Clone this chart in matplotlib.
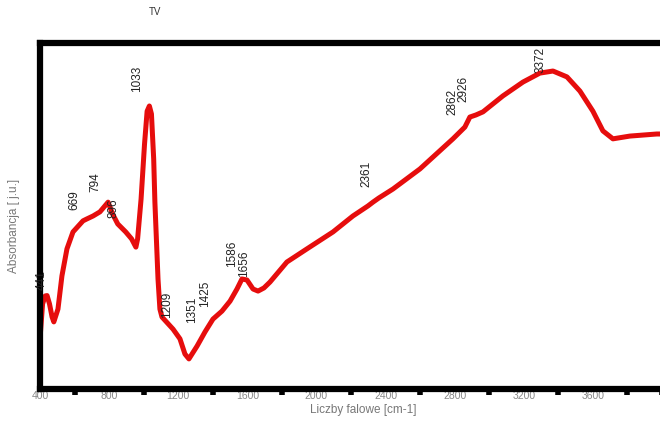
import matplotlib.pyplot as plt
from matplotlib.ticker import MultipleLocator

plt.rcParams['font.family'] = ['Liberation Sans', 'DejaVu Sans']

# FTIR spectrum, wavenumber [cm-1] vs absorbance [a.u.]
wavenumber = [400, 415, 430, 441, 455, 470, 480, 504, 527, 556, 591, 649, 669,
              707, 747, 794, 820, 850, 896, 930, 955, 965, 985, 1005, 1020,
              1033, 1045, 1058, 1065, 1083, 1094, 1106, 1170, 1210, 1239,
              1262, 1309, 1355, 1401, 1453, 1500, 1540, 1569, 1598, 1633,
              1662, 1696, 1731, 1829, 1945, 2096, 2211, 2298, 2327, 2361,
              2443, 2599, 2790, 2859, 2888, 2923, 2964, 3079, 3195, 3293,
              3369, 3450, 3525, 3600, 3658, 3716, 3814, 3970, 4000]
absorbance = [0.145, 0.246, 0.269, 0.270, 0.246, 0.208, 0.194, 0.231, 0.327,
              0.405, 0.454, 0.486, 0.491, 0.500, 0.512, 0.540, 0.506, 0.477,
              0.454, 0.434, 0.410, 0.434, 0.549, 0.708, 0.803, 0.818, 0.795,
              0.665, 0.540, 0.318, 0.231, 0.208, 0.173, 0.145, 0.101, 0.087,
              0.124, 0.165, 0.202, 0.225, 0.254, 0.289, 0.318, 0.315, 0.289,
              0.283, 0.292, 0.309, 0.367, 0.405, 0.454, 0.500, 0.529, 0.540,
              0.552, 0.578, 0.636, 0.723, 0.757, 0.786, 0.792, 0.801, 0.847,
              0.887, 0.913, 0.919, 0.902, 0.861, 0.803, 0.746, 0.723, 0.731,
              0.737, 0.737]

# band labels and the height where each label starts
peaks = [441, 669, 794, 896, 1033, 1209, 1351, 1425, 1586, 1656, 2361, 2862, 2926, 3372]
peak_label_y = [0.289, 0.520, 0.572, 0.497, 0.861, 0.208, 0.194, 0.240,
                0.355, 0.327, 0.587, 0.795, 0.832, 0.916]

fig = plt.figure(figsize=(6.6, 4.27), dpi=100)
ax = fig.add_axes([40/660, 1-390/427, 622/660, 346/427])

ax.plot(wavenumber, absorbance, color='#e60d0d', lw=3.6,
        solid_joinstyle='round', solid_capstyle='round')

for wn, ly in zip(peaks, peak_label_y):
    dx = -4 if wn < 450 else -9
    ax.annotate(str(wn), xy=(wn, ly), xytext=(dx, 0), textcoords='offset points',
                rotation=90, ha='center', va='bottom', fontsize=8.5, color='#222222')

ax.set_xlim(400, 4000)
ax.set_ylim(0, 1)

for side in ['left', 'top', 'bottom']:
    ax.spines[side].set_linewidth(4.5)
    ax.spines[side].set_color('black')
ax.spines['right'].set_visible(False)

ax.set_yticks([])
ax.xaxis.set_minor_locator(MultipleLocator(200))
ax.set_xticks(range(400, 3601, 400))
ax.tick_params(axis='x', which='major', length=0, pad=1, labelsize=7.5, labelcolor='#888888')
ax.tick_params(axis='x', which='minor', length=4, width=4, color='black')

fig.text(155/660, 1-12/427, 'TV', fontsize=7, color='#333333', ha='center', va='center')
fig.text(14/660, 1-226/427, 'Absorbancja [ j.u.]', rotation=90, fontsize=8.5,
         color='#777777', ha='center', va='center')
fig.text(363/660, 1-410/427, 'Liczby falowe [cm-1]', fontsize=8.5,
         color='#777777', ha='center', va='center')

fig.savefig('out.png', dpi=100)
